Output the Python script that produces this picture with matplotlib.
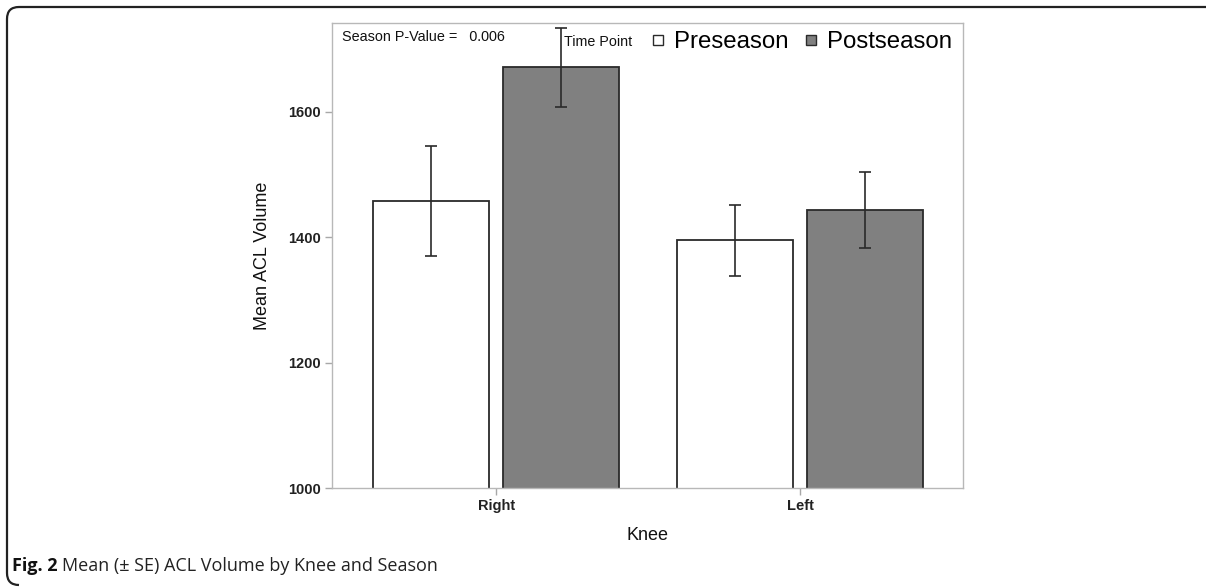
import matplotlib
matplotlib.use('Agg')
import matplotlib.pyplot as plt
from matplotlib.lines import Line2D
from matplotlib.path import Path
from matplotlib.patches import PathPatch
import numpy as np

# ---- data ----
knees = ['Right', 'Left']
pre_mean = [1458, 1395]
pre_se = [88, 57]
post_mean = [1671, 1444]
post_se = [63, 61]
yticks = [1000, 1200, 1400, 1600]
series_names = ['Preseason', 'Postseason']
p_value_text = 'Season P-Value =   0.006'

W, H = 1206, 587
fig = plt.figure(figsize=(W / 100, H / 100), dpi=100)
plt.rcParams['font.family'] = ['Liberation Sans', 'DejaVu Sans']

def fx(px):
    return px / W

def fy(py):
    return 1 - py / H

ax = fig.add_axes([fx(332), fy(488), fx(963) - fx(332), fy(23) - fy(488)])

x = np.arange(len(knees))
off, bw = 0.214, 0.382
edge = '#2a2a2a'
ax.bar(x - off, pre_mean, bw, color='white', edgecolor=edge, linewidth=1.3, zorder=2)
ax.bar(x + off, post_mean, bw, color='#808080', edgecolor=edge, linewidth=1.3, zorder=2)
ax.errorbar(x - off, pre_mean, yerr=pre_se, fmt='none', ecolor=edge, capsize=4.5,
            elinewidth=1.2, capthick=1.2, zorder=3)
ax.errorbar(x + off, post_mean, yerr=post_se, fmt='none', ecolor=edge, capsize=4.5,
            elinewidth=1.2, capthick=1.2, zorder=3)

ax.set_xlim(-0.54, 1.535)
ax.set_ylim(1000, 1742)
ax.set_yticks(yticks)
ax.set_yticklabels([str(v) for v in yticks], fontsize=10.5, fontweight='bold')
ax.set_xticks(x)
ax.set_xticklabels(knees, fontsize=10.5, fontweight='bold')
ax.tick_params(direction='out', length=5, color='#a8a8a8', width=1, pad=3, labelcolor='#222222')
for s in ax.spines.values():
    s.set_color('#b8b8b8')
    s.set_linewidth(1)

ax.set_ylabel('Mean ACL Volume', fontsize=13, labelpad=12, color='#111111')
ax.set_xlabel('Knee', fontsize=13, labelpad=10, color='#111111')

ax.text(fx(342), fy(37), p_value_text, transform=fig.transFigure, fontsize=10.4,
        va='center', ha='left', color='#111111')
ax.text(fx(564), fy(42), 'Time Point', transform=fig.transFigure, fontsize=10.3,
        va='center', ha='left', color='#111111')

handles = [Line2D([], [], marker='s', linestyle='none', markersize=6.5,
                  markerfacecolor='white', markeredgecolor=edge, markeredgewidth=1),
           Line2D([], [], marker='s', linestyle='none', markersize=6.5,
                  markerfacecolor='#808080', markeredgecolor=edge, markeredgewidth=1)]
fig.legend(handles, series_names, loc='center left', bbox_to_anchor=(fx(649), fy(42)),
           ncol=2, frameon=False, fontsize=17.3, handlelength=0.75, handletextpad=0.3,
           columnspacing=0.55, borderpad=0, borderaxespad=0)

# figure frame (top and left border with rounded corners)
r = 12
verts = [(W, 7), (7 + r, 7), (7, 7), (7, 7 + r), (7, 585 - r), (7, 585), (7 + r, 585)]
codes = [Path.MOVETO, Path.LINETO, Path.CURVE3, Path.CURVE3, Path.LINETO, Path.CURVE3, Path.CURVE3]
path = Path([(fx(a), fy(b)) for a, b in verts], codes)
fig.patches.append(PathPatch(path, transform=fig.transFigure, fill=False,
                             edgecolor='#222222', linewidth=1.6))

# caption
cap_family = ['Open Sans', 'DejaVu Sans']
t1 = fig.text(fx(12), fy(566), 'Fig. 2', fontsize=13, fontweight='bold',
              family=cap_family, va='center', ha='left', color='#111111')
renderer = fig.canvas.get_renderer()
bb = t1.get_window_extent(renderer=renderer)
fig.text(bb.x1 / W + fx(4), fy(566), 'Mean (\u00b1 SE) ACL Volume by Knee and Season',
         fontsize=13, family=cap_family, va='center', ha='left', color='#222222')

fig.savefig('out.png', dpi=100)
